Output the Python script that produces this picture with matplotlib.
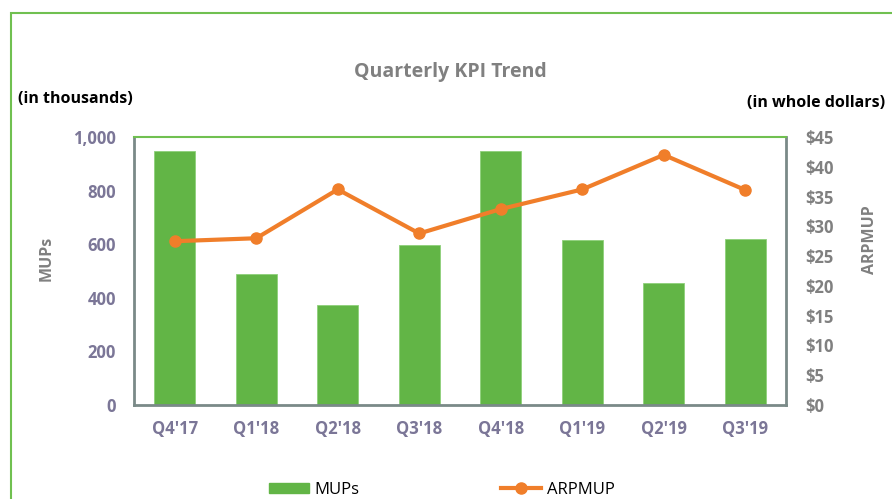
import matplotlib.pyplot as plt
from matplotlib.patches import Rectangle
from matplotlib.lines import Line2D
from matplotlib.patches import Patch
from matplotlib.ticker import FuncFormatter

quarters = ["Q4'17", "Q1'18", "Q2'18", "Q3'18", "Q4'18", "Q1'19", "Q2'19", "Q3'19"]
mups = [948, 488, 373, 597, 948, 617, 455, 620]
arpmup = [27.5, 28.0, 36.2, 28.8, 32.9, 36.2, 42.0, 36.1]

GREEN = "#62B546"
ORANGE = "#F07E2A"
TICK_PURPLE = "#7B7697"
GRAY = "#808080"
SPINE = "#7A8A88"

plt.rcParams['font.family'] = ['Open Sans', 'DejaVu Sans']

fig = plt.figure(figsize=(8.92, 4.99), dpi=100)
W, H = 892, 499

# outer chart frame
fig.patches.append(Rectangle((11 / W, -0.1), 1.2, (499 - 13) / H + 0.1,
                             transform=fig.transFigure, fill=False,
                             edgecolor="#70C050", linewidth=1.5))

ax = fig.add_axes([134 / W, 1 - 405 / H, (786 - 134) / W, (405 - 137) / H])
x = range(len(quarters))
ax.bar(x, mups, width=0.5, color=GREEN, edgecolor="#8ED07A", linewidth=0.6, zorder=2)
ax.set_xlim(-0.5, len(quarters) - 0.5)
ax.set_ylim(0, 1000)
ax.set_yticks(range(0, 1001, 200))
ax.yaxis.set_major_formatter(FuncFormatter(lambda v, p: f"{int(v):,}"))
ax.set_xticks(list(x))
ax.set_xticklabels(quarters)
ax.tick_params(axis="both", length=0, labelsize=12, labelcolor=TICK_PURPLE)
ax.tick_params(axis="x", pad=11)
ax.tick_params(axis="y", pad=13)
for lbl in ax.get_xticklabels() + ax.get_yticklabels():
    lbl.set_fontweight("bold")

for side in ["left", "bottom", "right"]:
    ax.spines[side].set_color(SPINE)
    ax.spines[side].set_linewidth(2)
ax.spines["top"].set_color("#70C050")
ax.spines["top"].set_linewidth(1.5)

ax2 = ax.twinx()
ax2.plot(list(x), arpmup, color=ORANGE, linewidth=3, marker="o", markersize=8, zorder=3)
ax2.set_ylim(0, 45)
ax2.set_yticks(range(0, 46, 5))
ax2.yaxis.set_major_formatter(FuncFormatter(lambda v, p: f"${int(v)}"))
ax2.tick_params(axis="y", length=0, labelsize=12, labelcolor=GRAY, pad=14)
for lbl in ax2.get_yticklabels():
    lbl.set_fontweight("bold")
for sp in ax2.spines.values():
    sp.set_visible(False)

fig.text(450 / W, 1 - 72 / H, "Quarterly KPI Trend", ha="center", va="center",
         fontsize=14, fontweight="bold", color=GRAY)
fig.text(18 / W, 1 - 99 / H, "(in thousands)", ha="left", va="center",
         fontsize=11.5, fontweight="bold", color="black")
fig.text(885 / W, 1 - 103 / H, "(in whole dollars)", ha="right", va="center",
         fontsize=11.5, fontweight="bold", color="black")
fig.text(47 / W, 1 - 258 / H, "MUPs", ha="center", va="center", rotation=90,
         fontsize=11.5, fontweight="bold", color=GRAY)
fig.text(870 / W, 1 - 240 / H, "ARPMUP", ha="center", va="center", rotation=90,
         fontsize=11.5, fontweight="bold", color=GRAY)

handles = [Patch(facecolor=GREEN, edgecolor=GREEN, label="MUPs"),
           Line2D([0], [0], color=ORANGE, linewidth=3, marker="o", markersize=8, label="ARPMUP")]
fig.legend(handles=handles, loc="center", bbox_to_anchor=(442 / W, 1 - 490 / H),
           ncol=2, frameon=False, fontsize=12, columnspacing=8.5, handlelength=2.4,
           handletextpad=0.35, handleheight=0.6)

fig.savefig("out.png", dpi=100)
